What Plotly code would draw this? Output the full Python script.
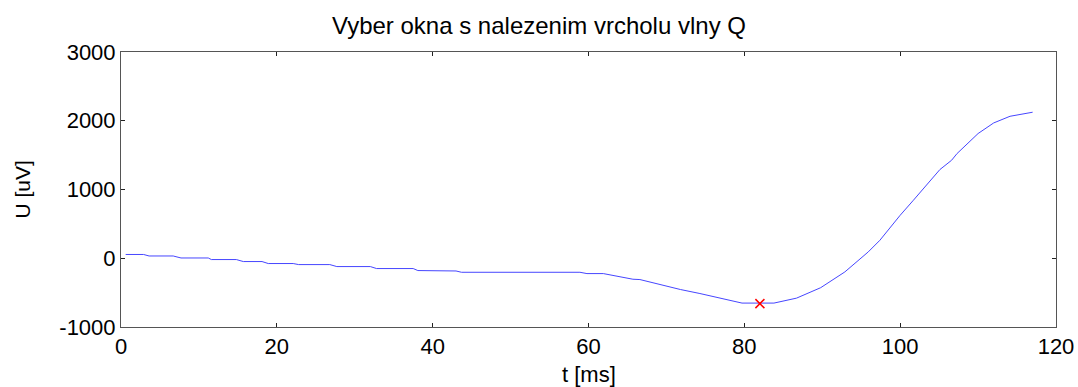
import plotly.graph_objects as go

# Signal vertices (time in ms, voltage in uV)
t_ms = [0.6, 2.9, 3.6, 6.7, 7.7, 11.2, 11.6, 14.8, 15.7, 18.1, 18.9, 22.1, 22.8,
        26.8, 27.7, 32.0, 32.8, 37.5, 38.1, 43.0, 43.7, 58.9, 59.8, 61.9, 65.7,
        66.6, 71.8, 74.3, 79.7, 83.8, 86.7, 89.8, 92.9, 95.9, 97.4, 100.0, 101.7,
        103.0, 104.3, 105.1, 106.6, 107.3, 110.0, 112.0, 114.1, 115.4, 117.0]
u_uv = [55, 55, 33, 33, 4, 4, -19, -19, -48, -48, -77, -77, -92,
        -92, -121, -121, -150, -150, -179, -185, -204, -204, -223, -223, -305,
        -310, -455, -513, -652, -652, -580, -428, -199, 92, 262, 625, 844,
        1014, 1183, 1290, 1425, 1523, 1814, 1968, 2065, 2095, 2124]

q_t = [82.0]
q_u = [-660]

x_ticks = [0, 20, 40, 60, 80, 100, 120]
y_ticks = [-1000, 0, 1000, 2000, 3000]
y_tick_text = ["-1000", "0", "1000", "2000", "3000"]

title_text = "Vyber okna s nalezenim vrcholu vlny Q"
x_label = "t [ms]"
y_label = "U [uV]"

FONT = "Liberation Sans, Arial"
W, H = 1078, 387
ML, MR, MT, MB = 121, 22, 52, 60
PW, PH = W - ML - MR, H - MT - MB

fig = go.Figure()
fig.add_trace(go.Scatter(x=t_ms, y=u_uv, mode="lines",
                         line=dict(color="rgb(70,70,255)", width=1),
                         showlegend=False, hoverinfo="skip"))
fig.add_trace(go.Scatter(x=q_t, y=q_u, mode="markers",
                         marker=dict(symbol="x-thin", size=9,
                                     line=dict(color="red", width=1.5), color="red"),
                         showlegend=False))

axis_common = dict(showgrid=False, zeroline=False, showline=True, mirror="ticks",
                   linecolor="#555", linewidth=1, ticks="inside", ticklen=4,
                   tickcolor="#222", tickwidth=1, automargin=False,
                   tickfont=dict(family=FONT, size=22, color="black"))

fig.update_layout(
    width=W, height=H,
    margin=dict(l=ML, r=MR, t=MT, b=MB),
    paper_bgcolor="white", plot_bgcolor="white",
    title=dict(text=title_text, x=0.5, xanchor="center", y=1 - 26 / H, yanchor="middle",
               font=dict(family=FONT, size=24, color="black"), automargin=False),
    xaxis=dict(range=[0, 120], tickvals=x_ticks, **axis_common),
    yaxis=dict(range=[-1000, 3000], tickvals=y_ticks, ticktext=y_tick_text, **axis_common),
    annotations=[
        dict(text=x_label, xref="paper", yref="paper", x=0.5, y=-(374 - (H - MB)) / PH,
             xanchor="center", yanchor="middle", showarrow=False,
             font=dict(family=FONT, size=22, color="black")),
        dict(text=y_label, xref="paper", yref="paper", x=-(ML - 22) / PW, y=0.5,
             xanchor="center", yanchor="middle", showarrow=False, textangle=-90,
             font=dict(family=FONT, size=21, color="black")),
    ],
)

fig.write_html("out.html", config={"displayModeBar": False},
               post_script="document.body.style.margin='0';document.body.style.overflow='hidden';")
